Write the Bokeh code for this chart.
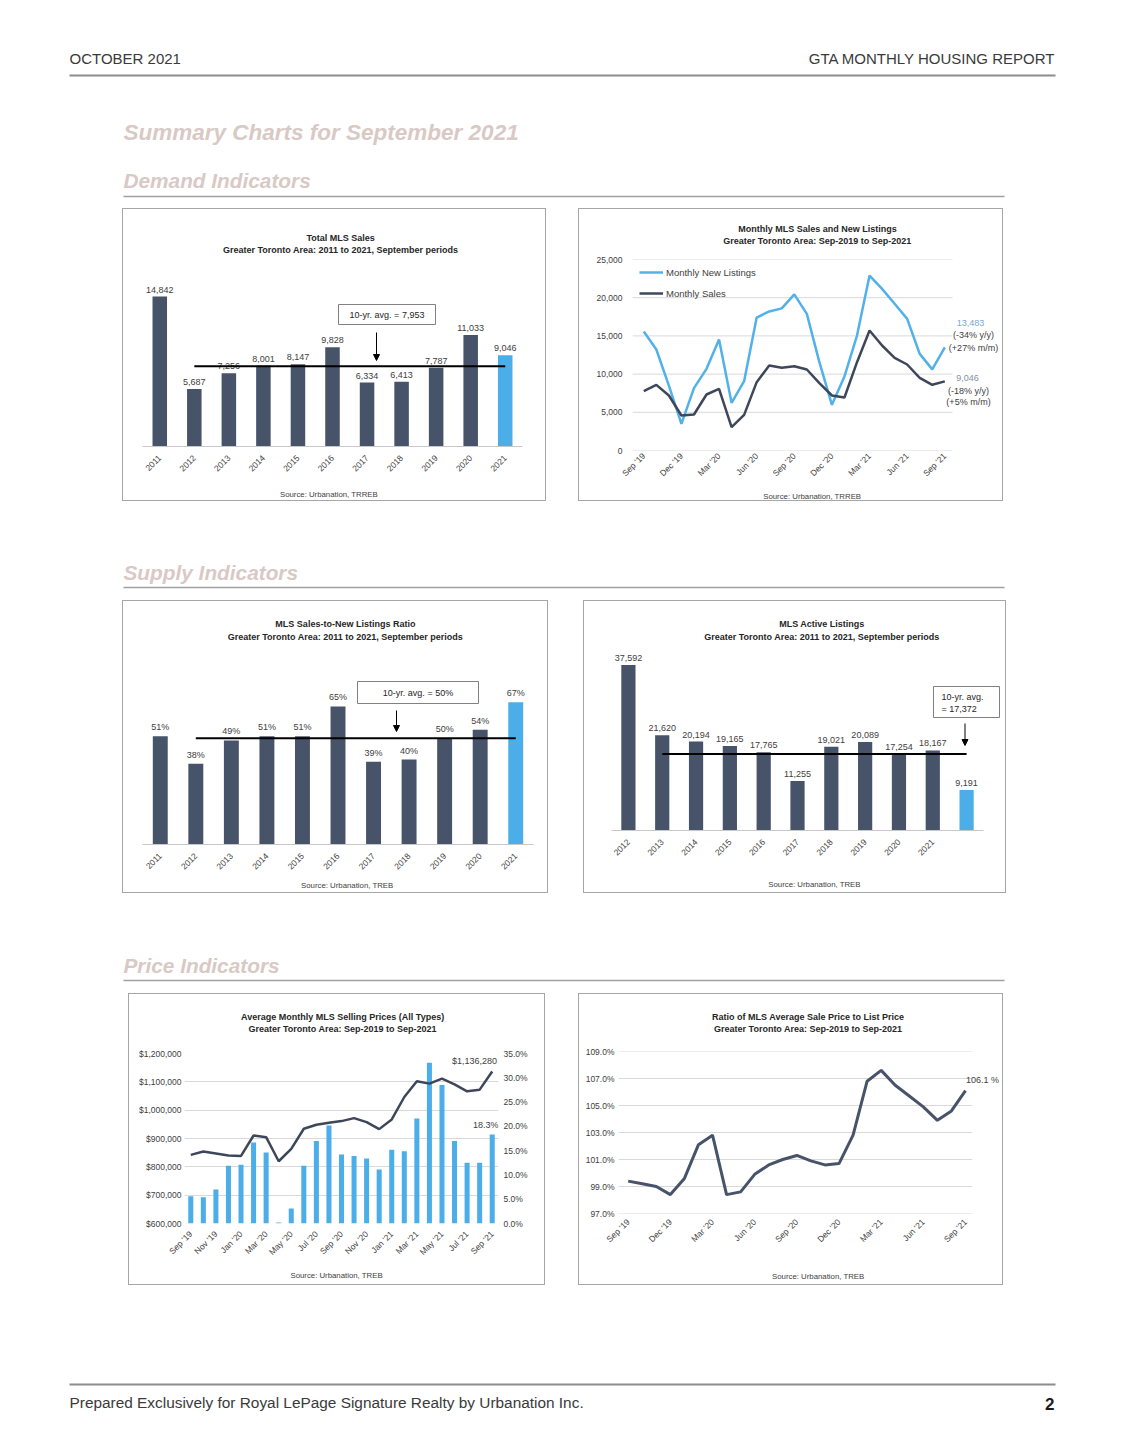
import math
from bokeh.plotting import figure
from bokeh.models import (Range1d, FixedTicker, NumeralTickFormatter, PrintfTickFormatter,
                          Arrow, NormalHead, Legend, LegendItem, Spacer, LinearAxis)
from bokeh.layouts import column, row
from bokeh.core.properties import value
from bokeh.embed import file_html
from bokeh.resources import INLINE

# ---------------- data ----------------
sales_years = ["2011", "2012", "2013", "2014", "2015", "2016", "2017", "2018", "2019", "2020", "2021"]
total_sales = [14842, 5687, 7256, 8001, 8147, 9828, 6334, 6413, 7787, 11033, 9046]
total_sales_avg = 7953

months = ["Sep '19", "Oct '19", "Nov '19", "Dec '19", "Jan '20", "Feb '20", "Mar '20", "Apr '20",
          "May '20", "Jun '20", "Jul '20", "Aug '20", "Sep '20", "Oct '20", "Nov '20", "Dec '20",
          "Jan '21", "Feb '21", "Mar '21", "Apr '21", "May '21", "Jun '21", "Jul '21", "Aug '21", "Sep '21"]
new_listings = [15574, 13220, 8500, 3490, 8160, 10690, 14530, 6240, 9075, 17400, 18200, 18600,
                20431, 17890, 11560, 5980, 9690, 15050, 22900, 21160, 19200, 17230, 12650, 10617, 13483]
monthly_sales = [7787, 8595, 7199, 4581, 4712, 7330, 8071, 3054, 4668, 8944, 11126, 10820,
                 11033, 10602, 8813, 7199, 6937, 11562, 15707, 13743, 12129, 11257, 9511, 8596, 9046]
volume_ticks = [0, 5000, 10000, 15000, 20000, 25000]
listings_notes = ["(-34% y/y)", "(+27% m/m)"]
sales_notes = ["(-18% y/y)", "(+5% m/m)"]

snlr_years = ["2011", "2012", "2013", "2014", "2015", "2016", "2017", "2018", "2019", "2020", "2021"]
snlr_pct = [51, 38, 49, 51, 51, 65, 39, 40, 50, 54, 67]
snlr_avg = 50

active_years = ["2012", "2013", "2014", "2015", "2016", "2017", "2018", "2019", "2020", "2021", ""]
active_listings = [37592, 21620, 20194, 19165, 17765, 11255, 19021, 20089, 17254, 18167, 9191]
active_avg = 17372

avg_price = [842100, 853900, 847000, 839800, 838600, 910600, 904700, 819700, 863400, 934300,
             948400, 955500, 961400, 972000, 957900, 933100, 967300, 1046500, 1102000, 1093700,
             1111400, 1091300, 1066500, 1072400, 1136280]
price_ticks = [600000, 700000, 800000, 900000, 1000000, 1100000, 1200000]
price_yoy = [5.6, 5.4, 7.0, 11.9, 12.1, 16.7, 14.6, 0.2, 3.1, 11.9, 17.0, 20.2, 14.2, 13.9, 13.4,
             11.1, 15.2, 14.9, 21.6, 33.1, 28.5, 17.0, 12.5, 12.5, 18.3]
yoy_ticks = [0, 5, 10, 15, 20, 25, 30, 35]

sale_to_list = [99.4, 99.2, 99.0, 98.4, 99.6, 102.1, 102.8, 98.4, 98.6, 99.9, 100.6, 101.0, 101.3,
                100.9, 100.6, 100.7, 102.8, 106.8, 107.6, 106.5, 105.7, 104.9, 103.9, 104.6, 106.1]
ratio_ticks = [97, 99, 101, 103, 105, 107, 109]

# ---------------- styles ----------------
F = "Liberation Sans"
DARK = "#465369"
DARK_L = "#3e475a"
BLUE = "#4baee8"
BLUE_L = "#52b1e8"
TXT = "#404040"
TITLE = "#262626"
GRID = "#d9d9d9"
AXIS = "#c8c8c8"
BORDER = "#a6a6a6"
SECTION = "#d9c9c5"
RULE = "#8c8c8c"
EDGE = {"background-color": BORDER}


def band(x0, top, w, h):
    """Blank figure whose data coordinates are page pixels (y downwards)."""
    p = figure(width=w, height=h, x_range=Range1d(x0, x0 + w), y_range=Range1d(top + h, top),
               output_backend="svg", toolbar_location=None, tools="", min_border=0,
               x_axis_location=None, y_axis_location=None, outline_line_color=None)
    p.grid.grid_line_color = None
    return p


def btext(p, x, y, text, size, color=TXT, style="normal", align="left"):
    p.text(x=[x], y=[y], text=[text], text_font=value(F), text_font_size=size,
           text_font_style=style, text_color=color, text_align=align, text_baseline="middle")


def chart(bx, by, W, H, top_h, bot_h, fl, fr, ft, fb, xr, yr, titles_xy, t1, t2, src_xy, src,
          yaxis=True):
    ix0 = bx + 1
    iw = W - 2
    ptop = by + top_h
    pbot = by + H - bot_h
    top = band(ix0, by + 1, iw, top_h - 1)
    btext(top, titles_xy[0], titles_xy[1], t1, "9px", color=TITLE, style="bold", align="center")
    btext(top, titles_xy[0], titles_xy[2], t2, "9px", color=TITLE, style="bold", align="center")
    bot = band(ix0, pbot, iw, bot_h - 1)
    btext(bot, src_xy[0], src_xy[1], src, "7.8px", color=TXT, align="center")
    p = figure(width=iw, height=pbot - ptop, x_range=Range1d(*xr), y_range=Range1d(*yr),
               output_backend="svg", toolbar_location=None, tools="",
               min_border_left=fl - ix0, min_border_right=ix0 + iw - fr,
               min_border_top=ft - ptop, min_border_bottom=pbot - fb,
               outline_line_color=None, y_axis_location="left" if yaxis else None)

    def X(sx):
        return xr[0] + (sx - fl) / (fr - fl) * (xr[1] - xr[0])

    def Y(sy):
        return yr[0] + (fb - sy) / (fb - ft) * (yr[1] - yr[0])
    block = column(
        Spacer(width=W, height=1, styles=EDGE),
        row(Spacer(width=1, height=H - 2, styles=EDGE), column(top, p, bot),
            Spacer(width=1, height=H - 2, styles=EDGE)),
        Spacer(width=W, height=1, styles=EDGE),
    )
    return p, X, Y, block


def style_xaxis(p, ticks, labels, standoff, size="8.5px"):
    ax = p.xaxis[0]
    ax.ticker = FixedTicker(ticks=ticks)
    ax.major_label_overrides = {t: l for t, l in zip(ticks, labels)}
    ax.major_label_orientation = math.pi / 4
    ax.major_tick_line_color = None
    ax.minor_tick_line_color = None
    ax.major_tick_out = 0
    ax.major_tick_in = 0
    ax.axis_line_color = AXIS
    ax.major_label_text_font = F
    ax.major_label_text_font_size = size
    ax.major_label_text_color = TXT
    ax.major_label_standoff = standoff
    return ax


def style_yaxis(ax, ticks, fmt, standoff):
    ax.ticker = FixedTicker(ticks=ticks)
    ax.formatter = fmt
    ax.axis_line_color = None
    ax.major_tick_line_color = None
    ax.minor_tick_line_color = None
    ax.major_tick_out = 0
    ax.major_tick_in = 0
    ax.major_label_text_font = F
    ax.major_label_text_font_size = "8.5px"
    ax.major_label_text_color = TXT
    ax.major_label_standoff = standoff


def ptext(p, x, y, text, color=TXT, align="center", size="9px"):
    p.text(x=[x], y=[y], text=[text], text_align=align, text_baseline="middle",
           text_font=value(F), text_font_size=size, text_color=color)


def gridlines(p, x0, x1, ticks):
    p.segment(x0=[x0] * len(ticks), y0=ticks, x1=[x1] * len(ticks), y1=ticks,
              line_color=GRID, line_width=1)


def bar_chart(p, X, Y, cats, vals, labels, avg, avg_text_lines, box, arrow):
    idx = list(range(len(cats)))
    colors = [DARK] * (len(vals) - 1) + [BLUE]
    p.vbar(x=idx, top=vals, width=0.42, fill_color=colors, line_color=None)
    p.text(x=idx, y=vals, text=labels, y_offset=-4, text_align="center", text_baseline="bottom",
           text_font=value(F), text_font_size="9px", text_color=TXT)
    p.line(x=[idx[1], idx[-1]], y=[avg, avg], line_color="black", line_width=2)
    (bx0, by0, bx1, by1) = box
    p.rect(x=[X((bx0 + bx1) / 2)], y=[Y((by0 + by1) / 2)], width=bx1 - bx0, height=by1 - by0,
           width_units="screen", height_units="screen", fill_color="white",
           line_color="#808080", line_width=1)
    for (tx, ty, t, al) in avg_text_lines:
        ptext(p, X(tx), Y(ty), t, color=TITLE, align=al)
    ax_x, ay0, ay1 = arrow
    p.add_layout(Arrow(end=NormalHead(size=6, line_color="black", fill_color="black"),
                       x_start=X(ax_x), y_start=Y(ay0), x_end=X(ax_x), y_end=Y(ay1),
                       line_color="black", line_width=1))
    p.xgrid.visible = False
    p.ygrid.visible = False
    ax = style_xaxis(p, idx, cats, 10)
    ax.bounds = (idx[0] - 0.5, idx[-1] + 0.5)


# ---------------- chart 1: total MLS sales ----------------
p1, X1, Y1, c1 = chart(122, 208, 424, 293, 54, 16, 142, 522, 262, 446, (-0.5, 10.5), (0, 18216),
                       (343, 237, 249), "Total MLS Sales",
                       "Greater Toronto Area: 2011 to 2021, September periods",
                       (330, 494), "Source: Urbanation, TRREB", yaxis=False)
bar_chart(p1, X1, Y1, sales_years, total_sales, [f"{v:,}" for v in total_sales], total_sales_avg,
          [(386.5, 314, f"10-yr. avg. = {total_sales_avg:,}", "center")],
          (338, 304, 435, 324), (376, 332, 360))

# ---------------- chart 2: monthly sales & new listings ----------------
ppm2 = (944.3 - 643.3) / 24
x0_2 = -(643.3 - 632) / ppm2
p2, X2, Y2, c2 = chart(578, 208, 425, 293, 44, 14, 632, 1001, 259, 450,
                       (x0_2, x0_2 + (1001 - 632) / ppm2), (0, 25000),
                       (791, 228, 240), "Monthly MLS Sales and New Listings",
                       "Greater Toronto Area: Sep-2019 to Sep-2021",
                       (785, 496), "Source: Urbanation, TRREB")
mi = list(range(len(months)))
p2.xgrid.visible = False
p2.ygrid.visible = False
gridlines(p2, x0_2, X2(952), volume_ticks)
r_nl = p2.line(mi, new_listings, line_color=BLUE_L, line_width=2.5)
r_s = p2.line(mi, monthly_sales, line_color=DARK_L, line_width=2.5)
ax2 = style_xaxis(p2, mi[::3], months[::3], 4)
ax2.axis_line_color = None
style_yaxis(p2.yaxis[0], volume_ticks, NumeralTickFormatter(format="0,0"), 10)
leg = Legend(items=[LegendItem(label="Monthly New Listings", renderers=[r_nl]),
                    LegendItem(label="Monthly Sales", renderers=[r_s])],
             location="top_left", background_fill_alpha=0, border_line_color=None,
             label_text_font=F, label_text_font_size="9.5px", label_text_color=TXT,
             glyph_width=24, glyph_height=12, label_height=12, spacing=9, padding=10, margin=7,
             label_standoff=3)
p2.add_layout(leg)
ptext(p2, X2(970), Y2(322), f"{new_listings[-1]:,}", color="#78a8da")
for t, yy in zip(listings_notes, (334, 347)):
    ptext(p2, X2(973), Y2(yy), t)
ptext(p2, X2(967), Y2(377), f"{monthly_sales[-1]:,}", color="#8690a4")
for t, yy in zip(sales_notes, (390, 401)):
    ptext(p2, X2(968), Y2(yy), t)

# ---------------- chart 3: sales-to-new-listings ratio ----------------
p3, X3, Y3, c3 = chart(122, 600, 426, 293, 50, 16, 142, 533, 650, 844, (-0.5, 10.5), (0, 91.3),
                       (343, 623, 636), "MLS Sales-to-New Listings Ratio",
                       "Greater Toronto Area: 2011 to 2021, September periods",
                       (345, 885), "Source: Urbanation, TREB", yaxis=False)
bar_chart(p3, X3, Y3, snlr_years, snlr_pct, [f"{v}%" for v in snlr_pct], snlr_avg,
          [(417.5, 692, f"10-yr. avg. = {snlr_avg}%", "center")],
          (357, 681, 478, 703), (396, 710, 731))

# ---------------- chart 4: active listings ----------------
ppc4 = (983 - 611) / 11
p4, X4, Y4, c4 = chart(583, 600, 423, 293, 45, 19, 611, 1003, 645, 830,
                       (-0.5, -0.5 + (1003 - 611) / ppc4), (0, 41995),
                       (810, 623, 636), "MLS Active Listings",
                       "Greater Toronto Area: 2011 to 2021, September periods",
                       (802, 884), "Source: Urbanation, TREB", yaxis=False)
bar_chart(p4, X4, Y4, active_years, active_listings, [f"{v:,}" for v in active_listings], active_avg,
          [(941, 696, "10-yr. avg.", "left"), (941, 708, f"= {active_avg:,}", "left")],
          (933, 686, 999, 717), (964.5, 723, 745))

# ---------------- chart 5: average selling prices ----------------
p5, X5, Y5, c5 = chart(128, 993, 417, 292, 47, 18, 184, 498, 1053, 1223, (-0.5, 24.5),
                       (600000, 1200000), (338, 1016, 1028),
                       "Average Monthly MLS Selling Prices (All Types)",
                       "Greater Toronto Area: Sep-2019 to Sep-2021",
                       (330, 1275), "Source: Urbanation, TREB")
p5.extra_y_ranges = {"pct": Range1d(0, 35)}
p5.xgrid.visible = False
p5.ygrid.grid_line_color = GRID
p5.vbar(x=mi, top=price_yoy, width=0.4, y_range_name="pct", fill_color=BLUE, line_color=None)
p5.line(mi, avg_price, line_color=DARK_L, line_width=2.5)
ax5 = style_xaxis(p5, mi[::2], months[::2], 9)
ax5.axis_line_color = None
style_yaxis(p5.yaxis[0], price_ticks, NumeralTickFormatter(format="$0,0"), 3)
rax = LinearAxis(y_range_name="pct")
p5.add_layout(rax, "right")
style_yaxis(rax, yoy_ticks, PrintfTickFormatter(format="%.1f%%"), 5)
ptext(p5, X5(474), Y5(1060), f"${avg_price[-1]:,}")
ptext(p5, X5(498), Y5(1124), f"{price_yoy[-1]}%", align="right")

# ---------------- chart 6: sale-to-list ratio ----------------
ppm6 = (965 - 627.7) / 24
x0_6 = -(627.7 - 618) / ppm6
p6, X6, Y6, c6 = chart(578, 993, 425, 292, 47, 18, 618, 1002, 1051, 1213,
                       (x0_6, x0_6 + (1002 - 618) / ppm6), (97, 109), (788, 1016, 1028),
                       "Ratio of MLS Average Sale Price to List Price",
                       "Greater Toronto Area: Sep-2019 to Sep-2021",
                       (799, 1276), "Source: Urbanation, TREB")
p6.xgrid.visible = False
p6.ygrid.visible = False
gridlines(p6, x0_6, X6(971.7), ratio_ticks)
p6.line(mi, sale_to_list, line_color=DARK, line_width=3)
ax6 = style_xaxis(p6, mi[::3], months[::3], 7)
ax6.axis_line_color = None
style_yaxis(p6.yaxis[0], ratio_ticks, PrintfTickFormatter(format="%.1f%%"), 4)
ptext(p6, X6(982), Y6(1079), f"{sale_to_list[-1]:.1f} %")

# ---------------- page bands ----------------
b1 = band(0, 0, 1127, 208)
btext(b1, 69, 58, "OCTOBER 2021", "15px", color="#3a3a3a")
btext(b1, 1055, 58, "GTA MONTHLY HOUSING REPORT", "15px", color="#3a3a3a", align="right")
b1.segment(x0=[69], y0=[75], x1=[1055], y1=[75], line_color=RULE, line_width=2)
btext(b1, 123, 132, "Summary Charts for September 2021", "22.5px", color=SECTION, style="bold italic")
btext(b1, 123, 180, "Demand Indicators", "20.8px", color=SECTION, style="bold italic")
b1.segment(x0=[123], y0=[196], x1=[1004], y1=[196], line_color="#a0a0a0", line_width=1.5)

b2 = band(0, 501, 1127, 99)
btext(b2, 123, 572, "Supply Indicators", "20.8px", color=SECTION, style="bold italic")
b2.segment(x0=[123], y0=[587], x1=[1004], y1=[587], line_color="#a0a0a0", line_width=1.5)

b3 = band(0, 893, 1127, 100)
btext(b3, 123, 965, "Price Indicators", "20.8px", color=SECTION, style="bold italic")
b3.segment(x0=[123], y0=[980], x1=[1004], y1=[980], line_color="#a0a0a0", line_width=1.5)

b4 = band(0, 1285, 1127, 150)
b4.segment(x0=[69], y0=[1384], x1=[1055], y1=[1384], line_color=RULE, line_width=2)
btext(b4, 69, 1402, "Prepared Exclusively for Royal LePage Signature Realty by Urbanation Inc.",
      "15.4px", color="#3a3a3a")
btext(b4, 1054, 1403, "2", "17px", color="#1a1a1a", style="bold", align="right")

layout = column(
    b1,
    row(Spacer(width=122, height=293), c1, Spacer(width=32, height=293), c2),
    b2,
    row(Spacer(width=122, height=293), c3, Spacer(width=35, height=293), c4),
    b3,
    row(Spacer(width=128, height=292), c5, Spacer(width=33, height=292), c6),
    b4,
)

open("out.html", "w").write(file_html(layout, INLINE, title="GTA Monthly Housing Report"))
